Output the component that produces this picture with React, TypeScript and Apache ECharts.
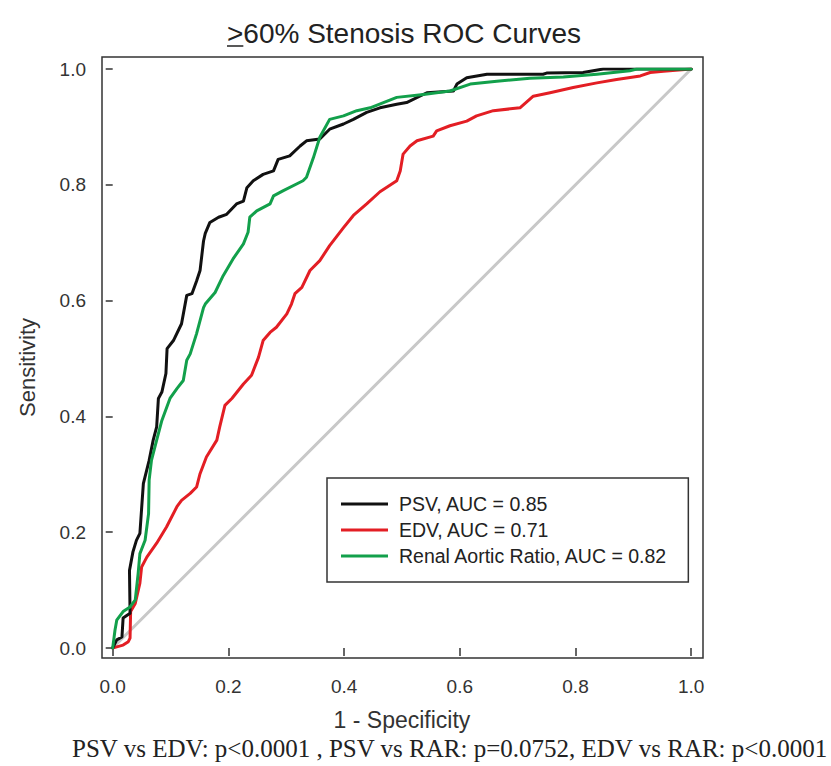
import React, { useEffect, useRef } from "react";
import * as echarts from "echarts";

const xTicks = [0, 0.2, 0.4, 0.6, 0.8, 1.0];
const yTicks = [0, 0.2, 0.4, 0.6, 0.8, 1.0];

const seriesNames = [
  "PSV, AUC = 0.85",
  "EDV, AUC = 0.71",
  "Renal Aortic Ratio, AUC = 0.82",
];

const psvFpr = [0, 0.007, 0.016, 0.018, 0.03, 0.029, 0.035, 0.041, 0.047, 0.053, 0.063, 0.07, 0.076, 0.079, 0.085, 0.092, 0.094, 0.105, 0.119, 0.128, 0.137, 0.145, 0.151, 0.157, 0.16, 0.168, 0.183, 0.197, 0.214, 0.226, 0.232, 0.243, 0.26, 0.278, 0.286, 0.306, 0.324, 0.335, 0.358, 0.375, 0.399, 0.416, 0.439, 0.462, 0.491, 0.508, 0.543, 0.589, 0.595, 0.612, 0.647, 0.744, 0.75, 0.813, 0.848, 1];
const psvTpr = [0, 0.014, 0.019, 0.052, 0.06, 0.134, 0.166, 0.186, 0.198, 0.284, 0.324, 0.359, 0.382, 0.431, 0.442, 0.474, 0.517, 0.531, 0.56, 0.609, 0.612, 0.634, 0.652, 0.703, 0.716, 0.735, 0.744, 0.749, 0.767, 0.772, 0.795, 0.807, 0.818, 0.824, 0.844, 0.85, 0.867, 0.876, 0.879, 0.896, 0.905, 0.913, 0.925, 0.933, 0.939, 0.942, 0.959, 0.962, 0.974, 0.985, 0.991, 0.991, 0.993, 0.994, 1.0, 1];

const edvFpr = [0, 0.007, 0.018, 0.027, 0.03, 0.031, 0.039, 0.047, 0.05, 0.059, 0.076, 0.093, 0.111, 0.119, 0.134, 0.145, 0.151, 0.162, 0.18, 0.185, 0.194, 0.206, 0.226, 0.24, 0.252, 0.26, 0.272, 0.283, 0.301, 0.309, 0.315, 0.327, 0.341, 0.358, 0.375, 0.399, 0.416, 0.439, 0.462, 0.491, 0.497, 0.502, 0.514, 0.526, 0.554, 0.56, 0.583, 0.612, 0.629, 0.658, 0.704, 0.727, 0.756, 0.796, 0.837, 0.871, 0.912, 0.929, 0.952, 1];
const edvTpr = [0, 0.002, 0.005, 0.011, 0.017, 0.063, 0.077, 0.112, 0.14, 0.157, 0.181, 0.209, 0.244, 0.255, 0.267, 0.278, 0.301, 0.33, 0.359, 0.382, 0.419, 0.431, 0.456, 0.471, 0.502, 0.531, 0.545, 0.554, 0.577, 0.594, 0.612, 0.623, 0.652, 0.669, 0.695, 0.726, 0.747, 0.767, 0.788, 0.807, 0.824, 0.853, 0.867, 0.876, 0.884, 0.893, 0.902, 0.91, 0.919, 0.928, 0.933, 0.953, 0.959, 0.968, 0.976, 0.982, 0.988, 0.994, 0.996, 1];

const rarFpr = [0, 0.004, 0.007, 0.018, 0.03, 0.039, 0.044, 0.047, 0.056, 0.059, 0.062, 0.063, 0.067, 0.076, 0.085, 0.099, 0.111, 0.122, 0.128, 0.134, 0.145, 0.157, 0.16, 0.177, 0.191, 0.208, 0.226, 0.234, 0.237, 0.249, 0.272, 0.278, 0.295, 0.329, 0.335, 0.347, 0.358, 0.375, 0.399, 0.422, 0.445, 0.468, 0.491, 0.537, 0.583, 0.618, 0.664, 0.721, 0.779, 0.837, 0.894, 0.906, 1];
const rarTpr = [0, 0.031, 0.048, 0.063, 0.071, 0.083, 0.129, 0.163, 0.186, 0.209, 0.232, 0.29, 0.324, 0.359, 0.393, 0.431, 0.448, 0.462, 0.497, 0.508, 0.543, 0.588, 0.594, 0.614, 0.643, 0.672, 0.698, 0.718, 0.744, 0.755, 0.767, 0.781, 0.79, 0.807, 0.813, 0.847, 0.882, 0.913, 0.919, 0.928, 0.933, 0.942, 0.951, 0.956, 0.962, 0.974, 0.979, 0.984, 0.986, 0.991, 0.997, 1.0, 1];

const chanceFpr = [0, 1];
const chanceTpr = [0, 1];

const titleRest = "60% Stenosis ROC Curves";
const titleSymbol = ">";
const xName = "1 - Specificity";
const yName = "Sensitivity";
const footer = "PSV vs EDV: p<0.0001 , PSV vs RAR: p=0.0752, EDV vs RAR: p<0.0001";

const SANS = "'Liberation Sans', Arial, sans-serif";
const SERIF = "'Liberation Serif', 'Times New Roman', serif";

function pairs(xs: number[], ys: number[]) {
  return xs.map((x, i) => [x, ys[i]]);
}

function measure(text: string, font: string) {
  const c = document.createElement("canvas");
  const ctx = c.getContext("2d");
  if (!ctx) return text.length * 10;
  ctx.font = font;
  return ctx.measureText(text).width;
}

export default function App() {
  const ref = useRef<HTMLDivElement>(null);
  useEffect(() => {
    if (!ref.current) return;
    const chart = echarts.init(ref.current, null, { renderer: "svg" });

    const gLeft = 112.7;
    const gTop = 69;
    const gW = 578.5;
    const gH = 579;
    const boxL = 102;
    const boxT = 57;
    const boxR = 703;
    const boxB = 658;

    const titleSize = 28;
    const titleFont = `${titleSize}px 'Liberation Sans'`;
    const fullTitle = titleSymbol + titleRest;
    const wFull = measure(fullTitle, titleFont);
    const wSym = measure(titleSymbol, titleFont);
    const titleCx = 404;
    const titleLeft = titleCx - wFull / 2;

    const footerFont = `25px ${SERIF}`;
    const wFooter = measure(footer, footerFont);
    const footerX = Math.min(72, 829 - wFooter);

    const lineStyle = (color: string) => ({
      color,
      width: 3,
      cap: "round" as const,
      join: "round" as const,
    });

    chart.setOption({
      animation: false,
      backgroundColor: "#ffffff",
      grid: {
        left: gLeft,
        top: gTop,
        width: gW,
        height: gH,
        containLabel: false,
      },
      xAxis: {
        type: "value",
        min: 0,
        max: 1,
        interval: 0.2,
        offset: boxB - (gTop + gH),
        axisLine: { show: false },
        axisTick: { show: true, length: 8, lineStyle: { color: "#333", width: 1.5 } },
        splitLine: { show: false },
        axisLabel: {
          margin: 19,
          fontSize: 19,
          fontFamily: SANS,
          color: "#333",
          formatter: (v: number) => v.toFixed(1),
        },
        name: xName,
        nameLocation: "middle",
        nameGap: 50,
        nameTextStyle: { fontSize: 23, fontFamily: SANS, color: "#333" },
      },
      yAxis: {
        type: "value",
        min: 0,
        max: 1,
        interval: 0.2,
        offset: gLeft - boxL,
        axisLine: { show: false },
        axisTick: { show: true, length: 7, lineStyle: { color: "#333", width: 1.5 } },
        splitLine: { show: false },
        axisLabel: {
          margin: 16,
          fontSize: 19,
          fontFamily: SANS,
          color: "#333",
          formatter: (v: number) => v.toFixed(1),
        },
        name: yName,
        nameLocation: "middle",
        nameGap: 64,
        nameTextStyle: { fontSize: 22, fontFamily: SANS, color: "#333", padding: [0, 18, 0, 0] },
      },
      legend: {
        data: seriesNames,
        orient: "vertical",
        left: 327,
        top: 478,
        padding: [16, 20, 16, 14],
        itemGap: 6,
        itemWidth: 47,
        itemHeight: 3,
        icon: "rect",
        borderColor: "#333",
        borderWidth: 1.5,
        backgroundColor: "#fff",
        textStyle: {
          fontSize: 19.5,
          lineHeight: 20,
          fontFamily: SANS,
          color: "#222",
          padding: [0, 0, 0, 6],
        },
      },
      graphic: [
        {
          type: "rect",
          shape: { x: boxL, y: boxT, width: boxR - boxL, height: boxB - boxT },
          style: { fill: "none", stroke: "#333", lineWidth: 1.5 },
          z: 1,
          silent: true,
        },
        {
          type: "text",
          x: titleLeft,
          y: 33,
          style: {
            text: fullTitle,
            font: titleFont,
            fill: "#222",
            textAlign: "left",
            textVerticalAlign: "middle",
          },
        },
        {
          type: "line",
          shape: { x1: titleLeft, y1: 46, x2: titleLeft + wSym, y2: 46 },
          style: { stroke: "#222", lineWidth: 1.5 },
        },
        {
          type: "text",
          x: footerX,
          y: 748,
          style: {
            text: footer,
            font: footerFont,
            fill: "#222",
            textAlign: "left",
            textVerticalAlign: "middle",
          },
        },
      ],
      series: [
        {
          name: "chance",
          type: "line",
          data: pairs(chanceFpr, chanceTpr),
          symbol: "none",
          lineStyle: lineStyle("#c8c8c8"),
          itemStyle: { color: "#c8c8c8" },
          silent: true,
          z: 2,
        },
        {
          name: seriesNames[1],
          type: "line",
          data: pairs(edvFpr, edvTpr),
          symbol: "none",
          lineStyle: lineStyle("#e31e24"),
          itemStyle: { color: "#e31e24" },
          z: 3,
        },
        {
          name: seriesNames[0],
          type: "line",
          data: pairs(psvFpr, psvTpr),
          symbol: "none",
          lineStyle: lineStyle("#111111"),
          itemStyle: { color: "#111111" },
          z: 4,
        },
        {
          name: seriesNames[2],
          type: "line",
          data: pairs(rarFpr, rarTpr),
          symbol: "none",
          lineStyle: lineStyle("#12a04b"),
          itemStyle: { color: "#12a04b" },
          z: 5,
        },
      ],
    });
    return () => chart.dispose();
  }, []);

  return (
    <div
      ref={ref}
      style={{ position: "absolute", left: 0, top: 0, width: 831, height: 766, background: "#fff" }}
    />
  );
}
